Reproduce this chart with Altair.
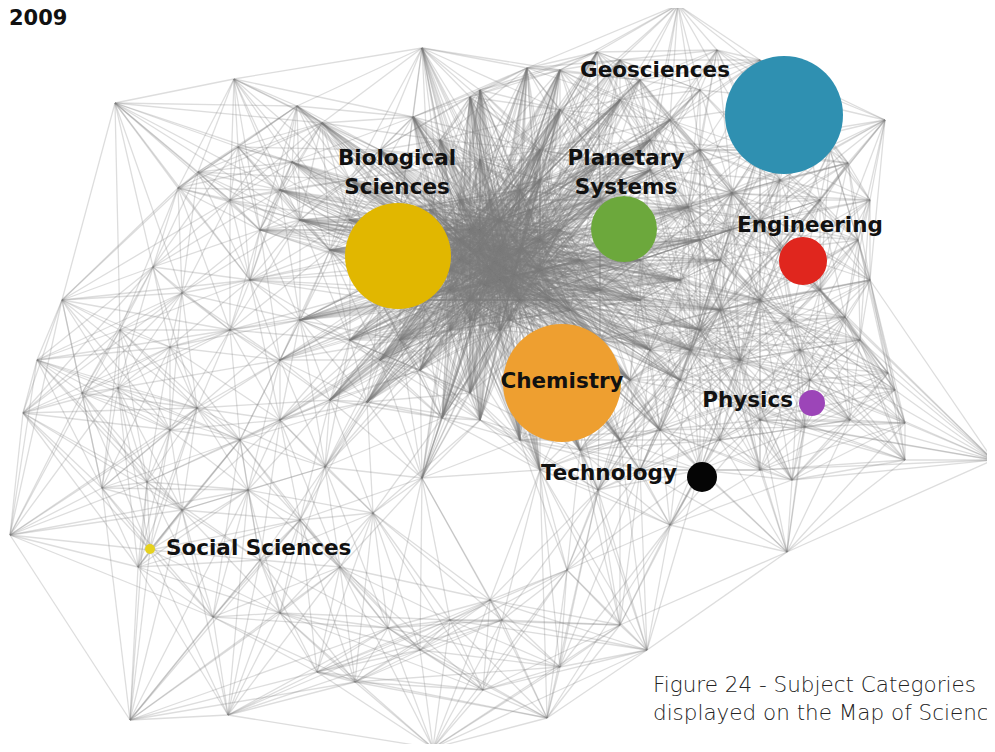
import altair as alt
import pandas as pd
import numpy as np

# ---- network nodes (image coordinates) ----
node_x = [
    115, 234, 297, 322, 238, 198, 178, 292, 422, 413, 470, 153, 62, 182, 170, 37,
    350, 380, 440, 480, 460, 500, 520, 480, 450, 420, 470, 510, 380, 330, 300, 260,
    250, 300, 350, 400, 450, 500, 540, 560, 520, 230, 280, 350, 400, 430, 490, 460,
    430, 500, 470, 495, 515, 485,
    440, 460, 480, 500, 520, 540, 530, 510, 470, 550, 450, 490, 540, 580, 570,
    527, 597, 678, 717, 560, 620, 670, 600, 650, 540, 700, 760, 800,
    885, 848, 732, 688, 858, 845, 888, 780, 720, 680, 760, 700, 640, 600, 800, 740,
    680, 630, 760, 720, 660, 620, 580, 720, 790, 820, 690, 740,
    620, 650, 700, 760, 820, 870, 870, 810, 850, 760, 650, 600, 860, 700, 760, 640,
    600, 480, 560, 640, 830, 780, 730,
    895, 905, 905, 993, 792, 805, 787, 670, 598, 567, 640, 700, 540, 520, 480, 470,
    442, 367, 422, 373, 325, 248, 182, 197, 147, 102, 118, 82, 23, 10, 138, 150,
    213, 280, 340, 388, 317, 355, 483, 490, 502, 620, 647, 560, 547, 433, 228, 130,
    420, 450, 260, 300, 240, 170, 280, 330, 420, 380, 280, 230, 120,
]
node_y = [
    103, 79, 106, 123, 147, 172, 188, 162, 48, 117, 97, 267, 300, 293, 347, 360,
    180, 150, 140, 160, 200, 220, 250, 250, 270, 300, 300, 290, 300, 250, 220, 230,
    280, 320, 340, 340, 330, 330, 270, 230, 190, 200, 190, 220, 210, 240, 270, 240,
    210, 250, 230, 262, 275, 285,
    230, 260, 230, 280, 300, 240, 210, 320, 320, 300, 290, 200, 180, 260, 310,
    68, 52, 5, 50, 110, 100, 120, 160, 170, 150, 90, 60, 100,
    120, 163, 193, 207, 240, 317, 373, 250, 260, 280, 300, 330, 300, 290, 350, 360,
    380, 380, 420, 440, 430, 440, 450, 310, 320, 290, 350, 400,
    60, 140, 150, 150, 200, 200, 280, 380, 420, 470, 350, 340, 340, 240, 220, 260,
    200, 90, 70, 80, 150, 180, 230,
    390, 423, 460, 460, 480, 427, 552, 525, 490, 570, 470, 470, 470, 440, 420, 393,
    418, 402, 478, 513, 467, 490, 510, 408, 482, 488, 388, 393, 413, 535, 567, 550,
    617, 613, 567, 628, 672, 682, 690, 600, 620, 625, 650, 667, 718, 748, 715, 720,
    650, 620, 560, 520, 440, 430, 420, 400, 370, 360, 360, 330, 330,
]

# hub regions of the map where links converge (centre x, centre y, hub radius, reach)
hub_x = [495, 730, 660, 570, 300, 700]
hub_y = [260, 330, 430, 190, 450, 200]
hub_r = [60, 50, 35, 35, 40, 40]
hub_reach = [230, 190, 160, 170, 150, 170]

# ---- subject categories ----
cat_name = ["Biological Sciences", "Geosciences", "Planetary Systems", "Engineering",
            "Chemistry", "Physics", "Technology", "Social Sciences"]
cat_x = [398, 784, 624, 803, 562, 812, 702, 150]
cat_y = [256, 115, 229, 261, 383, 403, 477, 549]
cat_weight = [2809, 3481, 1089, 576, 3481, 169, 225, 25]
cat_color = ["#E1B700", "#2F90B1", "#6CA83C", "#E0261E", "#EE9F30", "#9C45B8", "#050505", "#E6D21E"]

# labels
lab_text = ["Biological", "Sciences", "Geosciences", "Planetary", "Systems", "Engineering",
            "Chemistry", "Physics", "Technology", "Social Sciences"]
lab_x = [397, 397, 730, 626, 626, 810, 562, 793, 677, 166]
lab_y = [159, 188, 71, 159, 188, 226, 382, 401, 474, 549]
lab_align = ["center", "center", "right", "center", "center", "center", "center", "right", "right", "left"]

caption = ["Figure 24 - Subject Categories", "displayed on the Map of Science"]
cap_x = [653, 653]
cap_y = [686, 714]

# ---- build edges ----
nx_ = np.array(node_x, float)
ny_ = np.array(node_y, float)
n = len(nx_)
d = np.hypot(nx_[:, None] - nx_[None, :], ny_[:, None] - ny_[None, :])
edges = set()
K = 16
for i in range(n):
    order = np.argsort(d[i])
    for j in order[1:K + 1]:
        edges.add((min(i, int(j)), max(i, int(j))))
    for j in np.where((d[i] < 135) & (d[i] > 0))[0]:
        edges.add((min(i, int(j)), max(i, int(j))))
for hx, hy, hr, reach in zip(hub_x, hub_y, hub_r, hub_reach):
    dc = np.hypot(nx_ - hx, ny_ - hy)
    core = np.where(dc < hr)[0]
    for c in core:
        for j in np.where((d[c] < reach) & (d[c] > 0))[0]:
            edges.add((min(int(c), int(j)), max(int(c), int(j))))
edge_df = pd.DataFrame(
    [{"x": nx_[a], "y": ny_[a], "x2": nx_[b], "y2": ny_[b]} for a, b in sorted(edges)]
)

W, H = 979, 736
xs = alt.Scale(domain=[8, 8 + W], nice=False, zero=False)
ys = alt.Scale(domain=[8 + H, 8], nice=False, zero=False)

net = alt.Chart(edge_df).mark_rule(color="#7d7d7d", opacity=0.26, strokeWidth=1.3).encode(
    x=alt.X("x:Q", scale=xs, axis=None),
    y=alt.Y("y:Q", scale=ys, axis=None),
    x2="x2:Q",
    y2="y2:Q",
)

cat_df = pd.DataFrame({"name": cat_name, "x": cat_x, "y": cat_y, "w": cat_weight, "c": cat_color})
circles = alt.Chart(cat_df).mark_circle(opacity=1).encode(
    x=alt.X("x:Q", scale=xs, axis=None),
    y=alt.Y("y:Q", scale=ys, axis=None),
    size=alt.Size("w:Q", scale=alt.Scale(domain=[0, 3481], range=[0, 13924]), legend=None),
    color=alt.Color("c:N", scale=None),
)

lab_df = pd.DataFrame({"t": lab_text, "x": lab_x, "y": lab_y, "a": lab_align})
label_layers = []
for al in ["left", "center", "right"]:
    sub = lab_df[lab_df.a == al]
    label_layers.append(
        alt.Chart(sub).mark_text(
            align=al, baseline="middle", font="DejaVu Sans", fontWeight="bold",
            fontSize=21.5, color="#111111"
        ).encode(
            x=alt.X("x:Q", scale=xs, axis=None),
            y=alt.Y("y:Q", scale=ys, axis=None),
            text="t:N",
        )
    )

cap_df = pd.DataFrame({"t": caption, "x": cap_x, "y": cap_y})
cap = alt.Chart(cap_df).mark_text(
    align="left", baseline="middle", font="DejaVu Sans", fontWeight=300, fontSize=21.5, color="#222222"
).encode(
    x=alt.X("x:Q", scale=xs, axis=None),
    y=alt.Y("y:Q", scale=ys, axis=None),
    text="t:N",
)

title_df = pd.DataFrame({"t": ["2009"], "x": [9], "y": [19]})
ttl = alt.Chart(title_df).mark_text(
    align="left", baseline="middle", font="DejaVu Sans", fontWeight="bold", fontSize=21, color="#111111"
).encode(
    x=alt.X("x:Q", scale=xs, axis=None),
    y=alt.Y("y:Q", scale=ys, axis=None),
    text="t:N",
)

chart = alt.layer(net, circles, *label_layers, cap, ttl).properties(
    width=W, height=H, padding=0, background="white",
    autosize=alt.AutoSizeParams(type="none")
).configure_view(strokeWidth=0, stroke="transparent")

chart.save("out.html", embed_options={"renderer": "svg", "actions": False})
